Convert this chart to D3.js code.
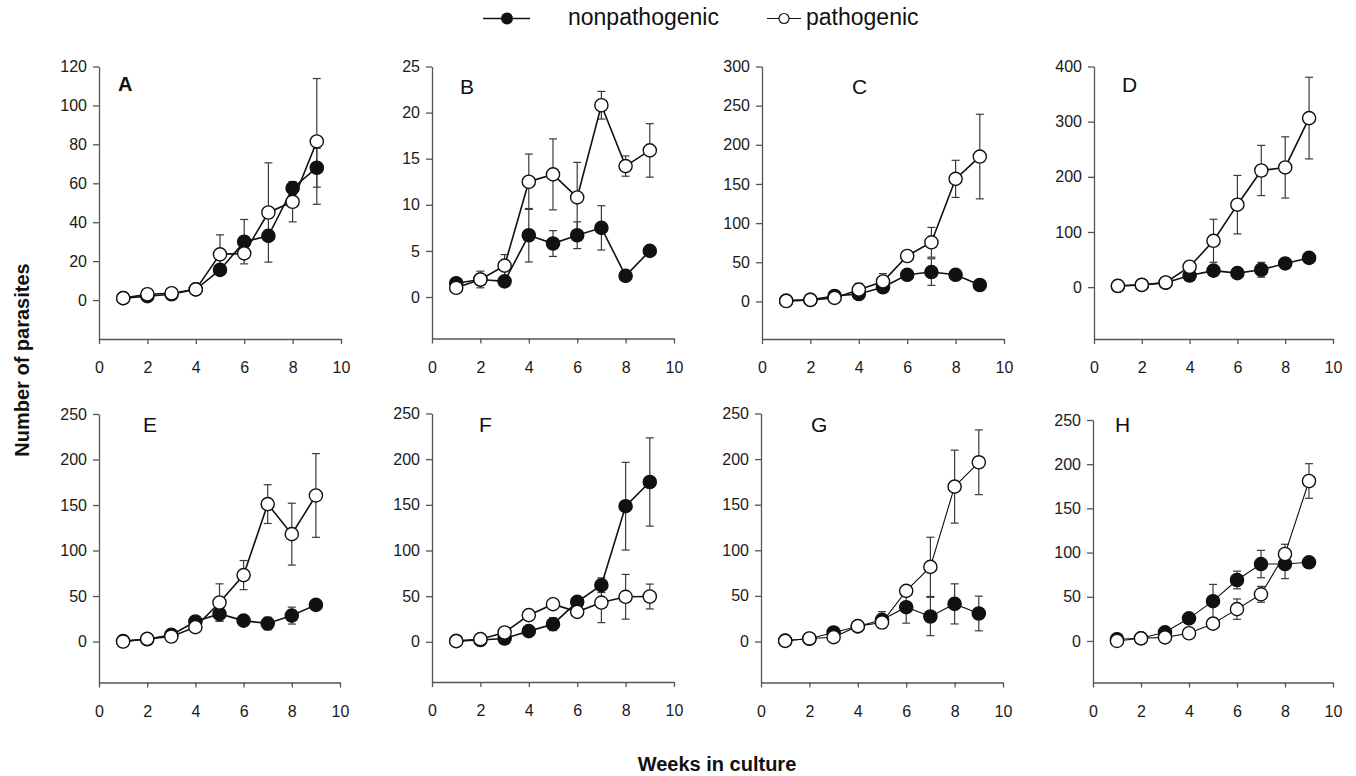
<!DOCTYPE html>
<html>
<head>
<meta charset="utf-8">
<script src="https://cdn.jsdelivr.net/npm/d3@7"></script>
<style>
  html, body { margin: 0; padding: 0; background: #fff; }
  svg { display: block; font-family: "Liberation Sans", Arial, Helvetica, sans-serif; }
</style>
</head>
<body>
<svg id="chart" width="1356" height="776"></svg>
<script>
// ---------------- DATA ----------------
const weeks = [1, 2, 3, 4, 5, 6, 7, 8, 9];
const xTickValues = [0, 2, 4, 6, 8, 10];
const panelLetters = ["A", "B", "C", "D", "E", "F", "G", "H"];
const seriesNames = ["nonpathogenic", "pathogenic"];

const yTicksA = [0, 20, 40, 60, 80, 100, 120];
const yTicksB = [0, 5, 10, 15, 20, 25];
const yTicksC = [0, 50, 100, 150, 200, 250, 300];
const yTicksD = [0, 100, 200, 300, 400];
const yTicksEH = [0, 50, 100, 150, 200, 250];

// nonpathogenic (filled) and pathogenic (open) means and error bars
const nonpathA = [1, 2, 3, 5.5, 15.5, 30, 33, 57.5, 68];
const nonpathErrA = [0, 0, 0, 0, 0, 11.4, 0, 3.4, 10];
const pathA = [1, 3, 3.5, 5.5, 23.5, 24, 45, 50.5, 81.5];
const pathErrA = [0, 0, 0, 0, 10, 0, 25.5, 10.3, 32.3];

const nonpathB = [1.5, 1.9, 1.7, 6.7, 5.8, 6.7, 7.5, 2.3, 5.0];
const nonpathErrB = [0, 0, 0, 2.9, 1.4, 1.45, 2.4, 0, 0];
const pathB = [1.0, 1.9, 3.4, 12.5, 13.3, 10.8, 20.8, 14.2, 15.9];
const pathErrB = [0, 0.9, 1.2, 3.0, 3.85, 3.8, 1.5, 1.1, 2.9];

const nonpathC = [1, 2, 7, 9.5, 18, 34, 37.5, 34, 21];
const nonpathErrC = [0, 0, 0, 0, 0, 0, 17, 0, 0];
const pathC = [0.5, 2, 4.5, 15, 25.5, 58, 75.5, 156.5, 185];
const pathErrC = [0, 0, 0, 8, 10, 0, 19, 23.7, 54];

const nonpathD = [2, 4, 8, 21, 30, 25.5, 31.5, 43, 53];
const nonpathErrD = [0, 0, 0, 0, 0, 0, 13.5, 0, 10];
const pathD = [2.4, 4.2, 8.5, 37, 84, 149.5, 211.5, 217, 306.5];
const pathErrD = [0, 0, 0, 0, 39, 53, 45.5, 55.5, 74];

const nonpathE = [0.5, 2.5, 7.3, 22, 30.4, 23, 19.8, 28.5, 40.3];
const nonpathErrE = [0, 0, 0, 0, 8, 0, 7, 9.3, 0];
const pathE = [0, 2.9, 5.5, 15.8, 42.9, 73, 151, 118, 160.5];
const pathErrE = [0, 0, 0, 0, 20.5, 16, 21.3, 34, 46];

const nonpathF = [1, 2, 3.6, 11.7, 19.3, 43.8, 62, 148.5, 175];
const nonpathErrF = [0, 0, 0, 0, 7, 0, 8, 48, 48.3];
const pathF = [0.7, 2.9, 10.2, 29.2, 41.2, 32.8, 43, 49.3, 49.6];
const pathErrF = [0, 0, 0, 0, 0, 0, 22, 24.5, 13.6];

const nonpathG = [1, 3, 9.9, 16.5, 23.7, 37.6, 27.4, 41.2, 30.7];
const nonpathErrG = [0, 0, 0, 0, 9, 17.5, 21, 22, 19];
const pathG = [0.7, 3.3, 4.7, 16.8, 20.8, 55.5, 81.8, 169.8, 196.5];
const pathErrG = [0, 0, 0, 0, 0, 0, 32.5, 40, 35.5];

const nonpathH = [2, 3, 9.8, 25.6, 45, 69, 87, 87, 89];
const nonpathErrH = [0, 0, 0, 0, 19, 10, 15.5, 16.5, 0];
const pathH = [0, 3, 4.1, 8.7, 19.6, 36, 52.8, 98.4, 181];
const pathErrH = [0, 0, 0, 0, 0, 11.5, 9, 11, 19.6];

// ---------------- LAYOUT ----------------
const panels = [
  { letter: panelLetters[0], np: nonpathA, npe: nonpathErrA, p: pathA, pe: pathErrA, yTicks: yTicksA, yMin: -20,  left: 99,   right: 341,  top: 66.5, bottom: 339,   lx: 118,  ly: 91,  bold: true,  lw: 1.6 },
  { letter: panelLetters[1], np: nonpathB, npe: nonpathErrB, p: pathB, pe: pathErrB, yTicks: yTicksB, yMin: -4.5, left: 432,  right: 674,  top: 66.5, bottom: 338.5, lx: 460,  ly: 94,  bold: false, lw: 1.6 },
  { letter: panelLetters[2], np: nonpathC, npe: nonpathErrC, p: pathC, pe: pathErrC, yTicks: yTicksC, yMin: -48,  left: 762,  right: 1004, top: 66.5, bottom: 339,   lx: 852,  ly: 94,  bold: false, lw: 1.6 },
  { letter: panelLetters[3], np: nonpathD, npe: nonpathErrD, p: pathD, pe: pathErrD, yTicks: yTicksD, yMin: -94,  left: 1094, right: 1333, top: 66.5, bottom: 339,   lx: 1122, ly: 92,  bold: false, lw: 1.6 },
  { letter: panelLetters[4], np: nonpathE, npe: nonpathErrE, p: pathE, pe: pathErrE, yTicks: yTicksEH, yMin: -45, left: 99,   right: 340,  top: 414,  bottom: 682.5, lx: 143,  ly: 432, bold: false, lw: 1.6 },
  { letter: panelLetters[5], np: nonpathF, npe: nonpathErrF, p: pathF, pe: pathErrF, yTicks: yTicksEH, yMin: -44, left: 432,  right: 674,  top: 413.5, bottom: 682,  lx: 479,  ly: 432, bold: false, lw: 1.6 },
  { letter: panelLetters[6], np: nonpathG, npe: nonpathErrG, p: pathG, pe: pathErrG, yTicks: yTicksEH, yMin: -45, left: 761,  right: 1003, top: 413.5, bottom: 682.5, lx: 811, ly: 432, bold: false, lw: 1.1 },
  { letter: panelLetters[7], np: nonpathH, npe: nonpathErrH, p: pathH, pe: pathErrH, yTicks: yTicksEH, yMin: -47, left: 1093, right: 1333, top: 420,  bottom: 682.5, lx: 1115, ly: 432, bold: false, lw: 1.1 }
];

const svg = d3.select("#chart");
const R = 6.6;
const CAP = 4;

panels.forEach(pn => {
  const yMax = pn.yTicks[pn.yTicks.length - 1];
  const x = d3.scaleLinear().domain([0, 10]).range([pn.left, pn.right]);
  const y = d3.scaleLinear().domain([pn.yMin, yMax]).range([pn.bottom, pn.top]);
  const g = svg.append("g");

  // axes
  const xAxis = d3.axisBottom(x).tickValues(xTickValues).tickSize(5).tickSizeOuter(0).tickPadding(18).tickFormat(d3.format("d"));
  const yAxis = d3.axisLeft(y).tickValues(pn.yTicks).tickSize(6).tickSizeOuter(0).tickPadding(6).tickFormat(d3.format("d"));

  const gx = g.append("g").attr("transform", `translate(0,${pn.bottom})`).call(xAxis);
  const gy = g.append("g").attr("transform", `translate(${pn.left},0)`).call(yAxis);
  [gx, gy].forEach(a => {
    a.select(".domain").attr("stroke", "#555").attr("stroke-width", 1.3);
    a.selectAll(".tick line").attr("stroke", "#555").attr("stroke-width", 1.3);
    a.selectAll(".tick text").attr("fill", "#1a1a1a").style("font-size", "16px")
      .style("font-family", '"Liberation Sans", Arial, sans-serif');
  });

  // panel letter
  g.append("text").attr("x", pn.lx).attr("y", pn.ly)
    .style("font-size", pn.bold ? "20px" : "21px")
    .style("font-weight", pn.bold ? "bold" : "normal")
    .attr("fill", "#111").text(pn.letter);

  const line = d3.line().x((d, i) => x(weeks[i])).y(d => y(d));

  const series = [
    { vals: pn.np, errs: pn.npe, fill: "#111" },
    { vals: pn.p, errs: pn.pe, fill: "#fff" }
  ];

  // error bars (behind everything)
  series.forEach(s => {
    const eb = g.append("g").attr("stroke", "#3a3a3a").attr("stroke-width", 1.2).attr("fill", "none");
    s.vals.forEach((v, i) => {
      const e = s.errs[i];
      if (!e) return;
      const cx = x(weeks[i]);
      const y1 = y(v + e), y2 = y(v - e);
      eb.append("line").attr("x1", cx).attr("x2", cx).attr("y1", y1).attr("y2", y2);
      eb.append("line").attr("x1", cx - CAP).attr("x2", cx + CAP).attr("y1", y1).attr("y2", y1);
      eb.append("line").attr("x1", cx - CAP).attr("x2", cx + CAP).attr("y1", y2).attr("y2", y2);
    });
  });

  // lines + markers: filled first, then open on top
  series.forEach(s => {
    g.append("path").datum(s.vals).attr("d", line)
      .attr("fill", "none").attr("stroke", "#111").attr("stroke-width", pn.lw);
    g.append("g").selectAll("circle").data(s.vals).join("circle")
      .attr("cx", (d, i) => x(weeks[i])).attr("cy", d => y(d)).attr("r", R)
      .attr("fill", s.fill).attr("stroke", "#111").attr("stroke-width", 1.4);
  });
});

// legend
const leg = svg.append("g");
leg.append("line").attr("x1", 483).attr("x2", 530).attr("y1", 18.5).attr("y2", 18.5).attr("stroke", "#111").attr("stroke-width", 1.6);
leg.append("circle").attr("cx", 507).attr("cy", 18.5).attr("r", 6).attr("fill", "#111");
leg.append("text").attr("x", 568).attr("y", 25).style("font-size", "23px").attr("fill", "#111").text(seriesNames[0]);
leg.append("line").attr("x1", 767).attr("x2", 801).attr("y1", 18.5).attr("y2", 18.5).attr("stroke", "#111").attr("stroke-width", 1.2);
leg.append("circle").attr("cx", 784).attr("cy", 18.5).attr("r", 5).attr("fill", "#fff").attr("stroke", "#111").attr("stroke-width", 1.2);
leg.append("text").attr("x", 806).attr("y", 25).style("font-size", "23px").attr("fill", "#111").text(seriesNames[1]);

// axis titles
svg.append("text").attr("transform", "translate(29,360) rotate(-90)")
  .attr("text-anchor", "middle").style("font-size", "20px").style("font-weight", "bold")
  .attr("fill", "#111").text("Number of parasites");
svg.append("text").attr("x", 717).attr("y", 771)
  .attr("text-anchor", "middle").style("font-size", "20px").style("font-weight", "bold")
  .attr("fill", "#111").text("Weeks in culture");
</script>
</body>
</html>
